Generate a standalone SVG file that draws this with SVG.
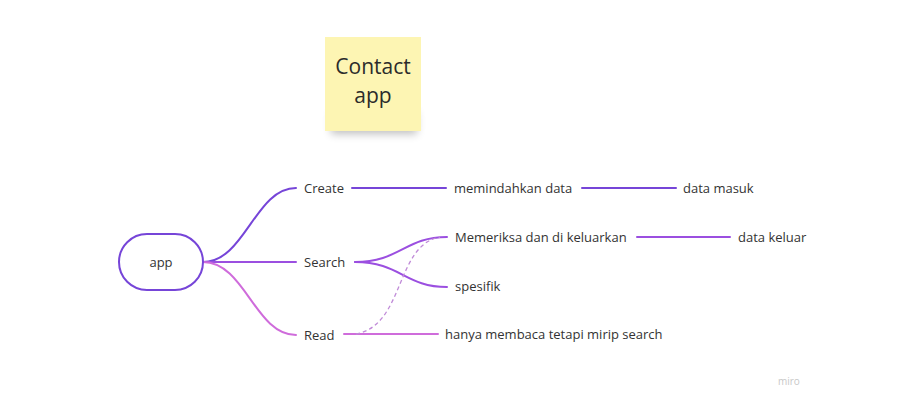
<svg xmlns="http://www.w3.org/2000/svg" width="919" height="406" viewBox="0 0 919 406">
<defs>
<style>
text{font-family:"Open Sans","Noto Sans","Liberation Sans",sans-serif;fill:#333333;font-size:13px}
.c{fill:none;stroke-width:2;stroke-linecap:round}
.p1{stroke:#7645d8}
.p2{stroke:#9b4fe0}
.p3{stroke:#cf6cdb}
</style>
<filter id="sh" x="-20%" y="-20%" width="140%" height="160%">
<feGaussianBlur stdDeviation="4"/>
</filter>
</defs>
<rect width="919" height="406" fill="#ffffff"/>
<g id="sticky">
<rect x="331" y="112" width="86" height="22" fill="#000" opacity="0.25" filter="url(#sh)"/>
<rect x="325" y="37" width="96" height="94" fill="#fdf5b3"/>
<text x="373" y="74" text-anchor="middle" style="font-size:21px;fill:#2b2b2b">Contact</text>
<text x="373" y="103" text-anchor="middle" style="font-size:21px;fill:#2b2b2b">app</text>
</g>
<g id="connectors">
<path class="c p1" d="M203 262 C245 262 255 188 296 188"/>
<path class="c p2" d="M203 262 L296 262"/>
<path class="c p3" d="M203 262 C245 262 255 335 296 335"/>
<path class="c p1" d="M352 188 L446 188"/>
<path class="c p1" d="M582 188 L676 188"/>
<path class="c p2" d="M355 262 C400 262 405 237 447 237"/>
<path class="c p2" d="M355 262 C400 262 405 287 447 287"/>
<path class="c p2" d="M637 237 L730 237"/>
<path class="c p3" d="M344 334 L438 334"/>
<path d="M356 334 C405 325 395 245 440 237" fill="none" stroke="#c08ad8" stroke-width="1.3" stroke-dasharray="4 3"/>
</g>
<g id="app">
<rect x="119" y="234" width="84" height="56" rx="28" fill="#fff" stroke="#7645d8" stroke-width="2"/>
<text x="161" y="267" text-anchor="middle">app</text>
</g>
<g id="create"><text x="304" y="193">Create</text></g>
<g id="search"><text x="304" y="267">Search</text></g>
<g id="read"><text x="304" y="340">Read</text></g>
<g id="memindahkan"><text x="454" y="193">memindahkan data</text></g>
<g id="datamasuk"><text x="683" y="193">data masuk</text></g>
<g id="memeriksa"><text x="455" y="242">Memeriksa dan di keluarkan</text></g>
<g id="datakeluar"><text x="738" y="242">data keluar</text></g>
<g id="spesifik"><text x="455" y="291">spesifik</text></g>
<g id="hanya"><text x="445" y="339">hanya membaca tetapi mirip search</text></g>
<text x="778" y="385" style="font-size:10px;fill:#c8c8c8">miro</text>
</svg>
